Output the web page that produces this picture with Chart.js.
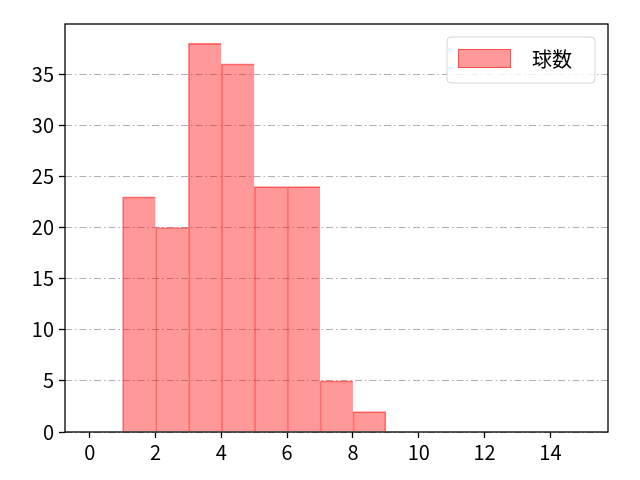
<!DOCTYPE html>
<html>
<head>
<meta charset="utf-8">
<script src="https://cdn.jsdelivr.net/npm/chart.js@4"></script>
<style>
  html, body { margin: 0; padding: 0; background: #fff; }
  #wrap { width: 640px; height: 480px; }
</style>
</head>
<body>
<div id="wrap"><canvas id="histChart" width="640" height="480"></canvas></div>
<script>
// histogram bins (left edges) and counts
const binStarts = [1, 2, 3, 4, 5, 6, 7, 8];
const counts = [23, 20, 38, 36, 24, 24, 5, 2];
const xTicks = [0, 2, 4, 6, 8, 10, 12, 14];
const yTicks = [0, 5, 10, 15, 20, 25, 30, 35];
const seriesLabel = '球数';

const FONT = "'Noto Sans CJK JP', 'Noto Sans', sans-serif";
const FONT_SIZE = 20;

// frame around the plot area + legend box like matplotlib
const framePlugin = {
    id: 'frame',
    afterDraw(chart) {
        const ctx = chart.ctx;
        const a = chart.chartArea;
        ctx.save();
        ctx.strokeStyle = '#000';
        ctx.lineWidth = 1.3;
        ctx.strokeRect(a.left, a.top, a.right - a.left, a.bottom - a.top);

        // legend
        const ds = chart.data.datasets[0];
        const bx = 447, by = 37, bw = 148, bh = 46, r = 4;
        ctx.beginPath();
        ctx.moveTo(bx + r, by);
        ctx.arcTo(bx + bw, by, bx + bw, by + bh, r);
        ctx.arcTo(bx + bw, by + bh, bx, by + bh, r);
        ctx.arcTo(bx, by + bh, bx, by, r);
        ctx.arcTo(bx, by, bx + bw, by, r);
        ctx.closePath();
        ctx.fillStyle = 'rgba(255,255,255,0.8)';
        ctx.fill();
        ctx.strokeStyle = '#d6d6d6';
        ctx.lineWidth = 1;
        ctx.stroke();

        ctx.fillStyle = ds.backgroundColor;
        ctx.fillRect(458, 49, 53, 19);
        ctx.strokeStyle = ds.borderColor;
        ctx.strokeRect(458.5, 49.5, 52, 18);

        ctx.fillStyle = '#000';
        ctx.font = FONT_SIZE + 'px ' + FONT;
        ctx.textBaseline = 'middle';
        ctx.fillText(ds.label, 532, 59);
        ctx.restore();
    }
};

const ctx = document.getElementById('histChart').getContext('2d');
const histChart = new Chart(ctx, {
    type: 'bar',
    data: {
        datasets: [{
            label: seriesLabel,
            data: binStarts.map((x, i) => ({ x: x + 0.5, y: counts[i] })),
            backgroundColor: 'rgba(255, 0, 0, 0.4)',
            borderColor: 'rgba(255, 0, 0, 0.5)',
            // one shared edge between neighbouring bars, like matplotlib
            borderWidth: (c) => ({
                top: 1,
                left: 1,
                bottom: 0,
                right: c.dataIndex === counts.length - 1 ? 1 : 0
            }),
            borderSkipped: false,
            barPercentage: 1,
            categoryPercentage: 1
        }]
    },
    options: {
        responsive: false,
        animation: false,
        layout: { padding: { top: 24, right: 32, left: 0, bottom: 0 } },
        plugins: {
            legend: { display: false },
            tooltip: { enabled: false }
        },
        scales: {
            x: {
                type: 'linear',
                min: -0.75,
                max: 15.75,
                offset: false,
                afterBuildTicks: (scale) => { scale.ticks = xTicks.map(v => ({ value: v })); },
                afterFit: (scale) => { scale.height = 48; },
                grid: {
                    offset: false,
                    drawOnChartArea: false,
                    tickLength: 6,
                    tickColor: '#000',
                    tickWidth: 1.3
                },
                border: { display: false },
                ticks: {
                    color: '#000',
                    padding: 2,
                    font: { family: FONT, size: FONT_SIZE }
                }
            },
            y: {
                min: 0,
                max: 39.9,
                afterBuildTicks: (scale) => { scale.ticks = yTicks.map(v => ({ value: v })); },
                afterFit: (scale) => { scale.width = 65; },
                grid: {
                    color: '#b0b0b0',
                    lineWidth: 1,
                    tickLength: 6,
                    tickColor: '#000',
                    tickWidth: 1.3,
                    tickBorderDash: []
                },
                border: { display: false, dash: [7, 3, 1.5, 3] },
                ticks: {
                    color: '#000',
                    padding: 5,
                    font: { family: FONT, size: FONT_SIZE }
                }
            }
        }
    },
    plugins: [framePlugin]
});
</script>
</body>
</html>
